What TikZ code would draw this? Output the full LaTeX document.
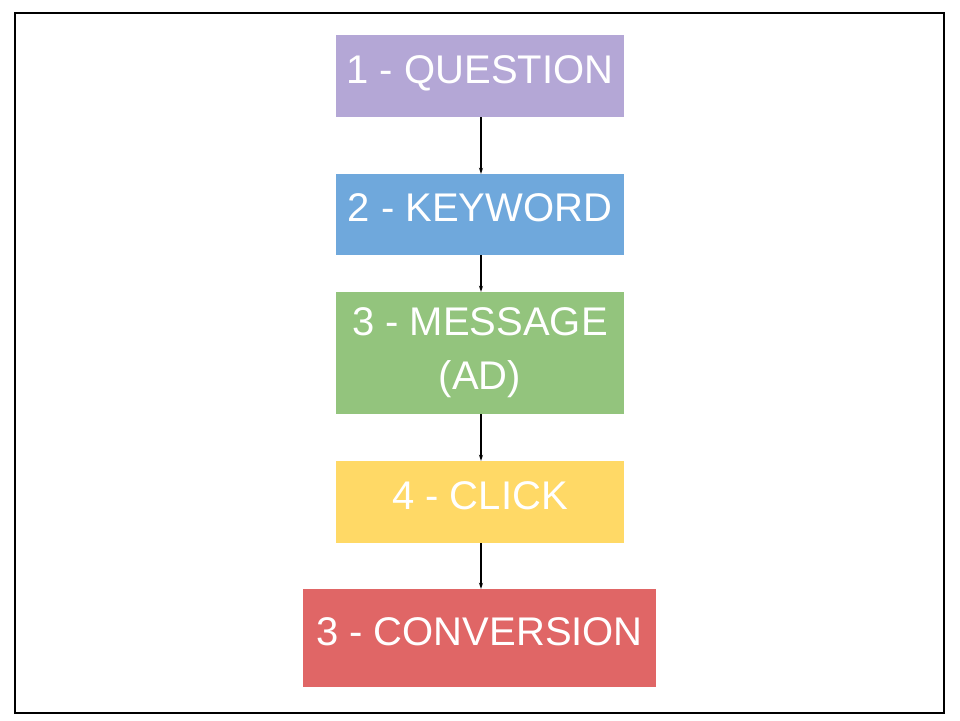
\documentclass[tikz,border=0pt]{standalone}
\usepackage{fontspec}
\setmainfont{Liberation Sans}
\usetikzlibrary{arrows.meta}
\definecolor{qpurple}{HTML}{B4A7D6}
\definecolor{kblue}{HTML}{6FA8DC}
\definecolor{mgreen}{HTML}{93C47D}
\definecolor{cyellow}{HTML}{FFD966}
\definecolor{vred}{HTML}{E06666}
\tikzset{
	stepbox/.style={
			draw=none, fill=#1, text=white, inner sep=0pt,
			minimum width=288pt, minimum height=82pt, align=center,
			font=\fontsize{40}{54}\selectfont
		},
	oneline/.style={text height=30pt, text depth=16pt},
	flow/.style={-{Stealth[length=6pt,width=4pt]}, black, line width=1.1pt}
}

\begin{document}
\begin{tikzpicture}[x=1pt, y=-1pt]
		\useasboundingbox (0, 0) rectangle (960, 720);
		\draw[black, line width=1.5pt]	(15, 13) rectangle (944, 713);

		\node[stepbox=qpurple, oneline]	(question)	at (480, 76) {1 - QUESTION};
		\node[stepbox=kblue, oneline, minimum height=81pt]	(keyword)	at (480, 214.5) {2 - KEYWORD};
		\node[stepbox=mgreen, minimum height=122pt]	(message)	at (480, 353) {3 - MESSAGE\\(AD)};
		\node[stepbox=cyellow, oneline]	(click)	at (480, 502) {4 - CLICK};
		\node[stepbox=vred, oneline, minimum width=353pt, minimum height=98pt]	(conversion)	at (479.5, 638) {3 - CONVERSION};

		\draw[flow]	([xshift=1pt]question.south) to ([xshift=1pt]keyword.north);
		\draw[flow]	([xshift=1pt]keyword.south) to ([xshift=1pt]message.north);
		\draw[flow]	([xshift=1pt]message.south) to ([xshift=1pt]click.north);
		\draw[flow]	([xshift=1pt]click.south) to ([xshift=1.5pt]conversion.north);
	\end{tikzpicture}
\end{document}
